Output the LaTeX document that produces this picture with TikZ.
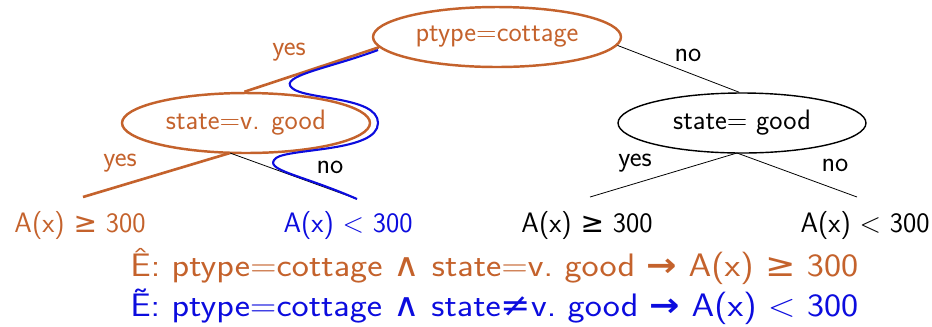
\documentclass[tikz,border=0pt]{standalone}
\usepackage{fontspec}
\usepackage{graphicx}
\usetikzlibrary{shapes.geometric}
\newfontfamily\symf{DejaVu Sans}
\definecolor{rust}{RGB}{196,98,44}
\definecolor{deepblue}{RGB}{12,12,222}
\newcommand{\sgeq}{{\symf ≥}}
\newcommand{\sland}{{\symf ∧}}
\newcommand{\sneq}{{\symf ≠}}
\newcommand{\sto}{{\symf\bfseries →}}
\newcommand{\ruleline}[1]{\resizebox{14.56cm}{\height}{\frenchspacing#1}}
\begin{document}
\begin{tikzpicture}[x=0.02cm,y=-0.02cm,
  every node/.style={font=\sffamily\fontsize{16}{19}\selectfont},
  test/.style={ellipse,draw,inner sep=0pt,minimum width=4.96cm,minimum height=1.2cm},
  hot/.style={draw=rust,line width=1.4pt,text=rust},
  cold/.style={draw=black,line width=0.8pt},
  thin/.style={draw=black,line width=0.45pt},
  path/.style={draw=rust,line width=1.5pt},
  lbl/.style={inner sep=1pt},
  leaf/.style={inner sep=0pt,anchor=base},
  rulefont/.style={inner sep=0pt,anchor=base west,font=\sffamily\fontsize{18.5}{21}\selectfont}]
\useasboundingbox (0,0) rectangle (932,326);

% decision nodes
\node[test,hot]  (top)   at (497,37)  {ptype=cottage};
\node[test,hot]  (left)  at (246,123) {state=v. good};
\node[test,cold] (right) at (742,123) {state= good};

% leaf ends
\coordinate (l1) at (83,197);
\coordinate (l2) at (357,199);
\coordinate (l3) at (590,197);
\coordinate (l4) at (857,197);
\coordinate (ls) at (230,153);
\coordinate (rs) at (737,153);

% branches
\draw[thin] (top.-4) -- (right.95);
\draw[thin] (ls) -- (l2);
\draw[thin] (rs) -- (l3);
\draw[thin] (rs) -- (l4);
\draw[path] (top.185) -- (left.93);
\draw[path] (ls) -- (l1);

% the negated branch
\draw[deepblue,line width=1.2pt] (378,50)
  .. controls (330,68) and (278,76) .. (292,88)
  .. controls (305,100) and (378,96) .. (378,123)
  .. controls (378,152) and (290,148) .. (276,158)
  .. controls (262,170) and (300,174) .. (l2);

% branch labels
\node[lbl,text=rust] at (289,52)  {yes};
\node[lbl]           at (688,55)  {no};
\node[lbl,text=rust] at (120,163) {yes};
\node[lbl]           at (330,167) {no};
\node[lbl]           at (635,163) {yes};
\node[lbl]           at (835,165) {no};

% leaves
\node[leaf,text=rust]     (a1) at (80,232)  {A(x) \sgeq{} 300};
\node[leaf,text=deepblue] (a2) at (348,232) {A(x) < 300};
\node[leaf]               (a3) at (587,232) {A(x) \sgeq{} 300};
\node[leaf]               (a4) at (865,232) {A(x) < 300};

% extracted rules
\node[rulefont,text=rust] (r1) at (130,276)
  {\ruleline{\^{E}: ptype=cottage \sland{} state=v. good \sto{} A(x) \sgeq{} 300}};
\node[rulefont,text=deepblue] (r2) at (130,316)
  {\ruleline{\~{E}: ptype=cottage \sland{} state\sneq{}v. good \sto{} A(x) < 300}};
\end{tikzpicture}
\end{document}
